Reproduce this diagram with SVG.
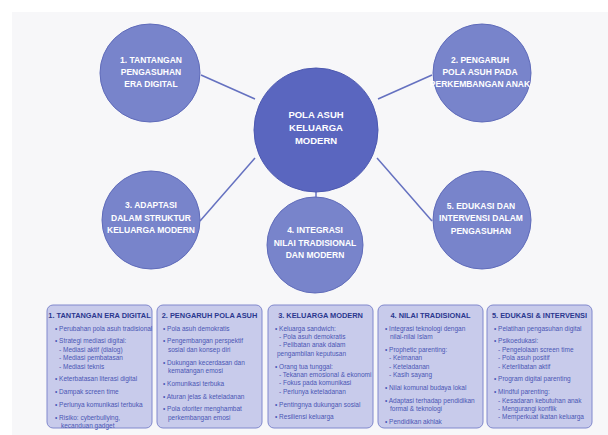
<svg xmlns="http://www.w3.org/2000/svg" width="608" height="435" viewBox="0 0 608 435">
<style>
.bg{fill:#f7f7f9}
.hub{fill:#5a66bf;stroke:#4c58b0;stroke-width:1}
.node{fill:#7884cb;stroke:#5f6bba;stroke-width:1}
.ct{font-family:"Liberation Sans",Arial,sans-serif;font-weight:bold;fill:#ffffff;text-anchor:middle}
.c8{font-size:8.5px}
.c9{font-size:9.5px}
.conn{stroke:#6571c0;stroke-width:1.5;fill:none}
.box{fill:#c8cbeb;stroke:#8088cd;stroke-width:1}
.bt{font-family:"Liberation Sans",Arial,sans-serif;font-weight:bold;font-size:7.4px;fill:#2b388f;text-anchor:middle}
.it{font-family:"Liberation Sans",Arial,sans-serif;font-size:6.5px;fill:#4a56b4}
</style>
<rect x="0" y="0" width="608" height="435" fill="#ffffff"/>
<rect class="bg" x="12" y="12" width="596" height="423"/>

<g id="connectors">
<line class="conn" x1="201" y1="75" x2="255" y2="99"/>
<line class="conn" x1="378" y1="99" x2="432" y2="75"/>
<line class="conn" x1="255" y1="158" x2="200" y2="221"/>
<line class="conn" x1="377" y1="158" x2="432" y2="221"/>
<line class="conn" x1="316" y1="191" x2="316" y2="198"/>
</g>

<g id="hub">
<circle class="hub" cx="316" cy="130" r="62"/>
<text class="ct c9" x="316" y="117.5">POLA ASUH</text>
<text class="ct c9" x="316" y="130.5">KELUARGA</text>
<text class="ct c9" x="316" y="143.5">MODERN</text>
</g>

<g id="node1">
<ellipse class="node" cx="150" cy="73" rx="50" ry="49"/>
<text class="ct c8" x="151" y="62.5">1. TANTANGAN</text>
<text class="ct c8" x="151" y="75">PENGASUHAN</text>
<text class="ct c8" x="151" y="87">ERA DIGITAL</text>
</g>

<g id="node2">
<ellipse class="node" cx="482" cy="73" rx="49" ry="49"/>
<text class="ct c8" x="480" y="62.5">2. PENGARUH</text>
<text class="ct c8" x="480" y="75">POLA ASUH PADA</text>
<text class="ct c8" x="480" y="87">PERKEMBANGAN ANAK</text>
</g>

<g id="node3">
<ellipse class="node" cx="151" cy="220" rx="49" ry="49"/>
<text class="ct c8" x="151" y="208">3. ADAPTASI</text>
<text class="ct c8" x="151" y="220.5">DALAM STRUKTUR</text>
<text class="ct c8" x="151" y="233">KELUARGA MODERN</text>
</g>

<g id="node4">
<ellipse class="node" cx="315" cy="245" rx="48" ry="48"/>
<text class="ct c8" x="315" y="233">4. INTEGRASI</text>
<text class="ct c8" x="315" y="245.5">NILAI TRADISIONAL</text>
<text class="ct c8" x="315" y="258">DAN MODERN</text>
</g>

<g id="node5">
<ellipse class="node" cx="482" cy="220" rx="49" ry="49"/>
<text class="ct c8" x="481" y="208.5">5. EDUKASI DAN</text>
<text class="ct c8" x="481" y="221">INTERVENSI DALAM</text>
<text class="ct c8" x="481" y="233.5">PENGASUHAN</text>
</g>

<g id="box1">
<rect class="box" x="47" y="305" width="105" height="123" rx="6"/>
<text class="bt" x="99.5" y="318">1. TANTANGAN ERA DIGITAL</text>
<text class="it" x="55" y="330.5">• Perubahan pola asuh tradisional</text>
<text class="it" x="55" y="343.3">• Strategi mediasi digital:</text>
<text class="it" x="59" y="351.7">- Mediasi aktif (dialog)</text>
<text class="it" x="59" y="360.1">- Mediasi pembatasan</text>
<text class="it" x="59" y="368.5">- Mediasi teknis</text>
<text class="it" x="55" y="381.3">• Keterbatasan literasi digital</text>
<text class="it" x="55" y="394.1">• Dampak screen time</text>
<text class="it" x="55" y="406.9">• Perlunya komunikasi terbuka</text>
<text class="it" x="55" y="419.7">• Risiko: cyberbullying,</text>
<text class="it" x="61" y="428.1">kecanduan gadget</text>
</g>

<g id="box2">
<rect class="box" x="157" y="305" width="105" height="123" rx="6"/>
<text class="bt" x="209.5" y="318">2. PENGARUH POLA ASUH</text>
<text class="it" x="163" y="330.5">• Pola asuh demokratis</text>
<text class="it" x="163" y="343.3">• Pengembangan perspektif</text>
<text class="it" x="168" y="351.7">sosial dan konsep diri</text>
<text class="it" x="163" y="364.5">• Dukungan kecerdasan dan</text>
<text class="it" x="168" y="372.9">kematangan emosi</text>
<text class="it" x="163" y="385.7">• Komunikasi terbuka</text>
<text class="it" x="163" y="398.5">• Aturan jelas &amp; keteladanan</text>
<text class="it" x="163" y="411.3">• Pola otoriter menghambat</text>
<text class="it" x="168" y="419.7">perkembangan emosi</text>
</g>

<g id="box3">
<rect class="box" x="268" y="305" width="105" height="123" rx="6"/>
<text class="bt" x="320.5" y="318">3. KELUARGA MODERN</text>
<text class="it" x="275" y="330.5">• Keluarga sandwich:</text>
<text class="it" x="279" y="338.9">- Pola asuh demokratis</text>
<text class="it" x="279" y="347.3">- Pelibatan anak dalam</text>
<text class="it" x="277" y="355.7">pengambilan keputusan</text>
<text class="it" x="275" y="368.5">• Orang tua tunggal:</text>
<text class="it" x="279" y="376.9">- Tekanan emosional &amp; ekonomi</text>
<text class="it" x="279" y="385.3">- Fokus pada komunikasi</text>
<text class="it" x="279" y="393.7">- Perlunya keteladanan</text>
<text class="it" x="275" y="406.5">• Pentingnya dukungan sosial</text>
<text class="it" x="275" y="419.3">• Resiliensi keluarga</text>
</g>

<g id="box4">
<rect class="box" x="378" y="305" width="105" height="123" rx="6"/>
<text class="bt" x="430.5" y="318">4. NILAI TRADISIONAL</text>
<text class="it" x="385" y="330.5">• Integrasi teknologi dengan</text>
<text class="it" x="390" y="338.9">nilai-nilai Islam</text>
<text class="it" x="385" y="351.7">• Prophetic parenting:</text>
<text class="it" x="389" y="360.1">- Keimanan</text>
<text class="it" x="389" y="368.5">- Keteladanan</text>
<text class="it" x="389" y="376.9">- Kasih sayang</text>
<text class="it" x="385" y="389.7">• Nilai komunal budaya lokal</text>
<text class="it" x="385" y="402.5">• Adaptasi terhadap pendidikan</text>
<text class="it" x="390" y="410.9">formal &amp; teknologi</text>
<text class="it" x="385" y="423.7">• Pendidikan akhlak</text>
</g>

<g id="box5">
<rect class="box" x="487" y="305" width="105" height="123" rx="6"/>
<text class="bt" x="539.5" y="318">5. EDUKASI &amp; INTERVENSI</text>
<text class="it" x="494" y="330.5">• Pelatihan pengasuhan digital</text>
<text class="it" x="494" y="343.3">• Psikoedukasi:</text>
<text class="it" x="498" y="351.7">- Pengelolaan screen time</text>
<text class="it" x="498" y="360.1">- Pola asuh positif</text>
<text class="it" x="498" y="368.5">- Keterlibatan aktif</text>
<text class="it" x="494" y="381.3">• Program digital parenting</text>
<text class="it" x="494" y="394.1">• Mindful parenting:</text>
<text class="it" x="498" y="402.5">- Kesadaran kebutuhan anak</text>
<text class="it" x="498" y="410.9">- Mengurangi konflik</text>
<text class="it" x="498" y="419.3">- Memperkuat ikatan keluarga</text>
</g>
</svg>
